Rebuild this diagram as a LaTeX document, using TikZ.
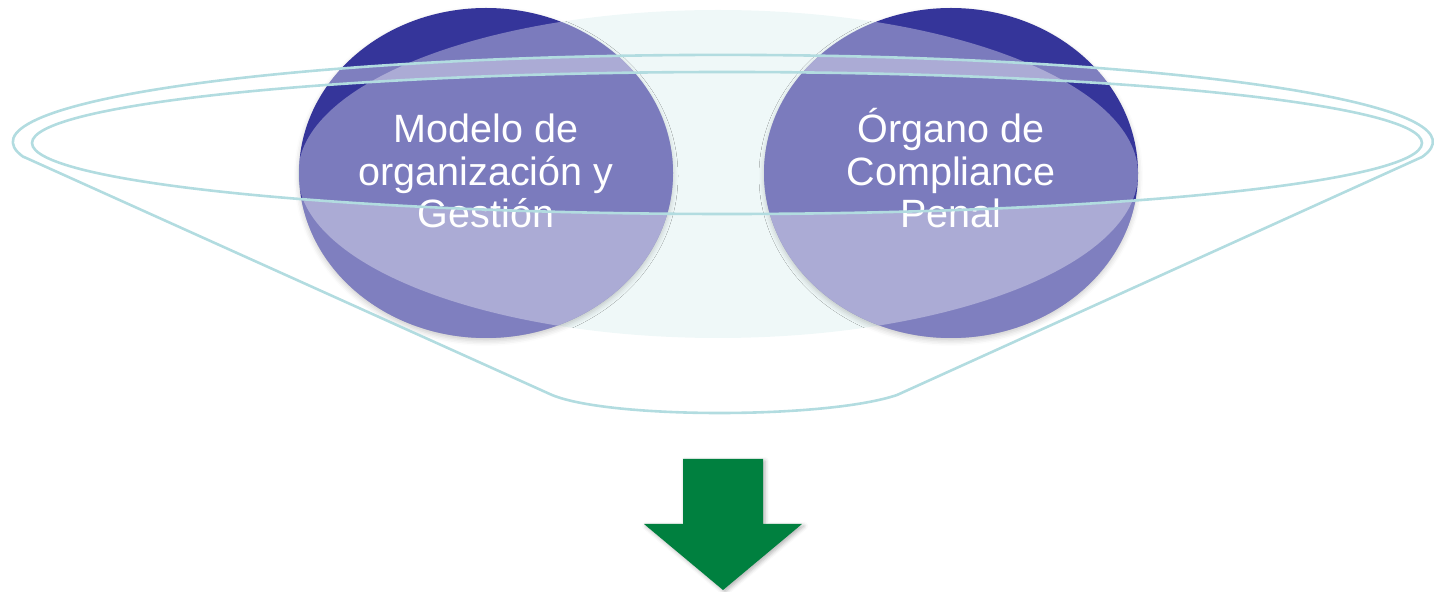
\documentclass[tikz,border=0pt]{standalone}
\usepackage{fontspec}
\setmainfont{Liberation Sans}
\usetikzlibrary{shadows.blur}
\definecolor{dark}{HTML}{35359A}
\definecolor{pale}{HTML}{EFF8F8}
\definecolor{rim}{HTML}{B2DCE0}
\definecolor{arrowgreen}{HTML}{00803F}
\begin{document}
\begin{tikzpicture}[x=0.5pt,y=-0.5pt,
  txt/.style={font=\fontsize{19.75}{21}\selectfont, text=white, inner sep=0pt, anchor=base},
  funnelline/.style={draw=rim, line width=1.3pt},
  ball/.style={fill=dark, blur shadow={shadow xshift=0pt, shadow yshift=-1.5pt, shadow blur radius=2.5pt, shadow opacity=20}}]
\useasboundingbox (0,0) rectangle (1434,592);
% pale back ellipse
\fill[pale] (718,174) ellipse [x radius=420, y radius=164];
% circles
\path[ball] (486,173) ellipse [x radius=187, y radius=165];
\path[ball] (951,173) ellipse [x radius=187, y radius=165];
% glass overlays on the circles
\begin{scope}
  \clip (486,173) ellipse [x radius=187, y radius=165] (951,173) ellipse [x radius=187, y radius=165];
  \fill[white, opacity=0.35] (718,174) ellipse [x radius=420, y radius=164];
  \fill[white, opacity=0.37, even odd rule]
    (24,157) -- (552,395) .. controls (610,419) and (826,419) .. (897,395) -- (1422,157)
    arc[start angle=10, end angle=-190, x radius=710, y radius=87] -- cycle
    (727,143) ellipse [x radius=695, y radius=71];
\end{scope}
% texts
\node[txt] (a1) at (486,143) {Modelo de};
\node[txt] (a2) at (486,185.5) {organización y};
\node[txt] (a3) at (486,228) {Gestión};
\node[txt] (b1) at (951,143) {Órgano de};
\node[txt] (b2) at (951,185.5) {Compliance};
\node[txt] (b3) at (951,228) {Penal};
% funnel outline
\draw[funnelline, line join=round]
  (24,157) -- (552,395) .. controls (610,419) and (826,419) .. (897,395) -- (1422,157)
  arc[start angle=10, end angle=-190, x radius=710, y radius=87] -- cycle;
\draw[funnelline] (727,143) ellipse [x radius=695, y radius=71];
% green arrow
\fill[arrowgreen, blur shadow={shadow xshift=1pt, shadow yshift=-1pt, shadow blur radius=2pt, shadow opacity=30}]
  (683,459) -- (763,459) -- (763,524) -- (802,524) -- (723,590) -- (644,524) -- (683,524) -- cycle;
\end{tikzpicture}
\end{document}
